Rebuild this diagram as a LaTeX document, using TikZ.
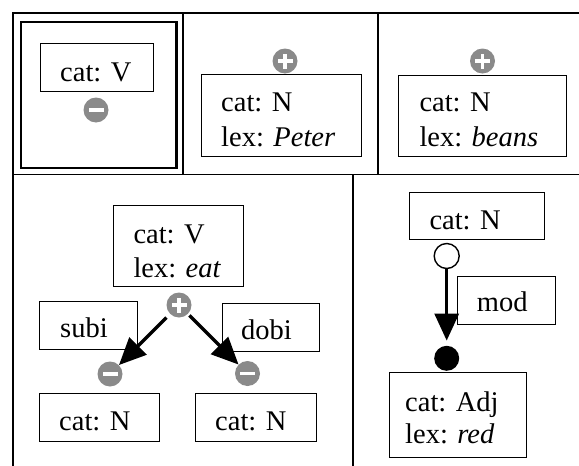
\documentclass[tikz,border=0pt]{standalone}
\usepackage{fontspec}
\setmainfont{Liberation Serif}
\usetikzlibrary{arrows.meta}
\definecolor{pmgray}{RGB}{138,138,138}
\begin{document}
\begin{tikzpicture}[x=1pt,y=-1pt,
  frame/.style={line width=1.6pt},
  fbox/.style={draw, line width=1pt, inner sep=0pt, anchor=north west},
  txt/.style={inner sep=0pt, anchor=base west, font=\fontsize{28.5}{34}\selectfont},
  dotbase/.style={circle, inner sep=0pt, minimum size=25pt},
  negdot/.style={dotbase, fill=pmgray, path picture={\fill[white] ([xshift=-7.5pt,yshift=-1.8pt]path picture bounding box.center) rectangle ++(15pt,3.6pt);}},
  posdot/.style={dotbase, fill=pmgray, path picture={\fill[white] ([xshift=-7.5pt,yshift=-1.8pt]path picture bounding box.center) rectangle ++(15pt,3.6pt); \fill[white] ([xshift=-1.8pt,yshift=-7.5pt]path picture bounding box.center) rectangle ++(3.6pt,15pt);}},
  opendot/.style={dotbase, draw, line width=1.4pt, fill=white},
  filldot/.style={dotbase, fill=black},
  arr/.style={line width=3.3pt, -{Triangle[length=27pt,width=24pt]}}
]
\useasboundingbox (0,0) rectangle (579,466);
% panel frames
\draw[frame] (579,13) -- (13,13) -- (13,466);
\draw[frame] (13,174.5) -- (579,174.5);
\draw[frame] (183,13) -- (183,174.5);
\draw[frame] (378,13) -- (378,174.5);
\draw[frame] (353,174.5) -- (353,466);
\draw[line width=2.6pt] (21,22) rectangle (176.5,168);

% panel 1
\node[fbox, minimum width=113pt, minimum height=48pt] (b1) at (40,42.7) {};
\node[txt] (t1) at (60,81) {cat: V};
\node[negdot] (m1) at (96,110) {};

% panel 2
\node[posdot] (p2) at (285,61) {};
\node[fbox, minimum width=160pt, minimum height=82pt] (b2) at (200.7,74) {};
\node[txt] (t2a) at (221,111.7) {cat: N};
\node[txt] (t2b) at (221,146.7) {lex: \textit{Peter}};

% panel 3
\node[posdot] (p3) at (482.5,61) {};
\node[fbox, minimum width=167.7pt, minimum height=80.7pt] (b3) at (398.3,75) {};
\node[txt] (t3a) at (419.3,111.7) {cat: N};
\node[txt] (t3b) at (419.3,146.7) {lex: \textit{beans}};

% panel 4
\node[fbox, minimum width=130pt, minimum height=80.7pt] (beat) at (113,205) {};
\node[txt] (t4a) at (133.3,243) {cat: V};
\node[txt] (t4b) at (133.3,277) {lex: \textit{eat}};
\node[posdot] (pl) at (179,305) {};
\node[fbox, minimum width=98pt, minimum height=48pt] (bsubi) at (39,301) {};
\node[txt] (tsubi) at (60,337.7) {subi};
\node[fbox, minimum width=97pt, minimum height=48pt] (bdobi) at (222,303) {};
\node[txt] (tdobi) at (241,339.3) {dobi};
\node[negdot] (ml) at (110,374) {};
\node[negdot] (mr) at (247.5,373.5) {};
\node[fbox, minimum width=120pt, minimum height=48pt] (bnl) at (39,392.7) {};
\node[txt] (tnl) at (59,430) {cat: N};
\node[fbox, minimum width=121pt, minimum height=48pt] (bnr) at (195,392.7) {};
\node[txt] (tnr) at (215,430) {cat: N};
\draw[arr, shorten <=5pt] (pl) -- (ml);
\draw[arr, shorten <=2pt] (pl) -- (mr);

% panel 5
\node[fbox, minimum width=135pt, minimum height=47.6pt] (bn5) at (409.3,191.7) {};
\node[txt] (tn5) at (429.3,229.3) {cat: N};
\node[opendot] (oc) at (446.7,256) {};
\node[fbox, minimum width=98.3pt, minimum height=48pt] (bmod) at (456.7,276) {};
\node[txt] (tmod) at (476.7,311.7) {mod};
\node[filldot] (fc) at (446.7,358.3) {};
\node[fbox, minimum width=136.7pt, minimum height=84.4pt] (badj) at (389,372.3) {};
\node[txt] (tadja) at (405,411.7) {cat: Adj};
\node[txt] (tadjb) at (405,443.3) {lex: \textit{red}};
\draw[arr, shorten >=5pt] (oc) -- (fc);
\end{tikzpicture}
\end{document}
